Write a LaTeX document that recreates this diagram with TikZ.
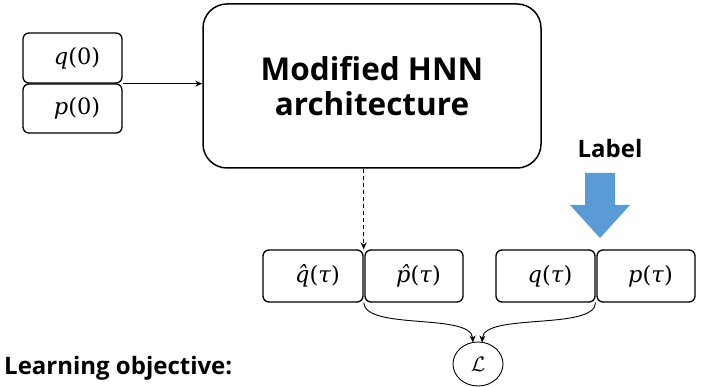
\documentclass[tikz,border=0pt]{standalone}
\usepackage{graphicx}
\usepackage{fontspec}
\setsansfont{Open Sans}
\newfontfamily\valfont{DejaVu Serif}
\usetikzlibrary{arrows.meta,calc,shapes.geometric}
\definecolor{labelblue}{HTML}{5B9BD5}
\newcommand{\vshift}{\hspace*{9pt}}
\begin{document}
\begin{tikzpicture}[x=1pt,y=1pt,
  valbox/.style={draw, rounded corners=6pt, line width=1.3pt, minimum height=50pt,
    inner sep=0pt, font=\valfont\fontsize{22.5}{26}\selectfont},
  bigbox/.style={draw, rounded corners=24pt, line width=1.5pt, minimum width=338pt,
    minimum height=164pt, align=center, inner sep=0pt,
    font=\sffamily\bfseries\fontsize{31.5}{37}\selectfont},
  title/.style={font=\sffamily\bfseries\fontsize{24}{28}\selectfont, inner sep=0pt},
  conn/.style={line width=0.9pt, -{Stealth[length=7pt,width=6pt]}},
]
\useasboundingbox (0,0) rectangle (707,-387);

% input boxes
\node[valbox, minimum width=99pt] (q0) at (72.5,-58) {\vshift\textit{q}(0)};
\node[valbox, minimum width=99pt, minimum height=49pt] (p0) at (72.5,-108.5) {\vshift\textit{p}(0)};

% main box
\node[bigbox] (big) at (372,-86) {Modified HNN\\[-2pt]architecture};

% input arrow
\draw[conn] (q0.south east) -- (q0.south east -| big.west);

% output boxes
\node[valbox, minimum width=100pt, minimum height=52pt] (qh) at (313,-276) {\vshift\textit{q̂}(\textit{τ})};
\node[valbox, minimum width=98pt, minimum height=52pt] (ph) at (414,-276) {\vshift\textit{p̂}(\textit{τ})};
\node[valbox, minimum width=99pt, minimum height=52pt] (qt) at (545.5,-276) {\vshift\textit{q}(\textit{τ})};
\node[valbox, minimum width=98pt, minimum height=52pt] (pt) at (646,-276) {\vshift\textit{p}(\textit{τ})};

% dashed arrow
\draw[conn, dashed, dash pattern=on 4pt off 3pt] (qh.north east |- big.south) -- (qh.north east);

% label arrow
\node[title] (lab) at (610,-149) {Label};
\fill[labelblue] (585,-173) -- (615,-173) -- (615,-205) -- (630,-205) -- (600,-238)
  -- (570,-205) -- (585,-205) -- cycle;

% loss
\node[draw, ellipse, line width=0.9pt, minimum width=50pt, minimum height=44pt, inner sep=0pt]
  (L) at (478,-364) {\scalebox{2.1}{$\mathcal{L}$}};
\coordinate (Lin1) at ($(L.north)+(-5,-1)$);
\coordinate (Lin2) at ($(L.north)+(4,-1)$);
\draw[conn] (qh.south east) .. controls +(2,-28) and +(-2,30) .. (Lin1);
\draw[conn] (qt.south east) .. controls +(-1,-28) and +(2,30) .. (Lin2);

% learning objective
\node[title, anchor=base west] (lo) at (4,-374) {Learning objective:};
\end{tikzpicture}
\end{document}
